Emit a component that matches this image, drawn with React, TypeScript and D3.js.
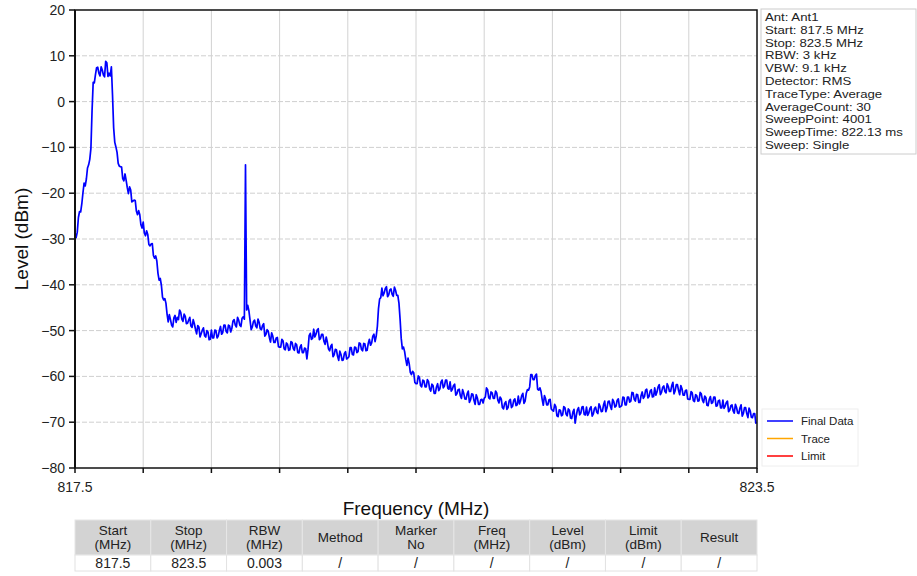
import React from "react";
import * as d3 from "d3";

// ---- Data ----
const sweepStartMHz = 817.5;
const sweepStopMHz = 823.5;
const sweepStepMHz = 0.01;

// Level (dBm), one value every 0.01 MHz from 817.5 MHz
const levelsDbm = [
  -29.1, -29.7, -28.5, -25.3, -24.0, -24.1, -22.3, -19.9, -17.8, -18.4, -16.9, -14.5, -13.8, -12.6, -10.2, -2.0, 4.2, 4.1, 5.9, 7.4,
  7.5, 6.2, 5.6, 7.6, 6.9, 5.8, 5.4, 8.8, 8.5, 5.5, 6.2, 5.6, 7.6, 1.5, -5.7, -8.9, -9.9, -11.1, -13.5, -14.1,
  -14.2, -14.3, -16.8, -17.3, -15.8, -17.2, -18.8, -20.1, -18.6, -19.3, -21.9, -21.7, -21.5, -21.6, -23.9, -24.7, -23.8, -24.7, -26.9, -27.6,
  -26.3, -28.7, -29.3, -28.2, -29.0, -31.2, -31.5, -31.1, -31.0, -33.6, -34.2, -33.7, -34.8, -37.5, -39.0, -38.6, -40.1, -42.7, -43.3, -43.0,
  -44.0, -46.4, -48.1, -46.5, -47.6, -48.8, -49.2, -47.2, -46.7, -48.2, -47.1, -47.6, -45.5, -46.0, -47.5, -48.0, -46.4, -46.9, -48.5, -48.4,
  -47.7, -47.1, -49.0, -49.3, -47.6, -48.5, -49.7, -50.7, -48.9, -49.2, -51.4, -50.7, -49.9, -49.4, -51.1, -51.4, -50.0, -50.3, -52.0, -51.9,
  -49.9, -51.6, -51.6, -49.9, -50.0, -51.6, -51.2, -50.0, -49.1, -50.8, -50.4, -48.8, -48.8, -50.2, -50.5, -48.8, -49.0, -50.3, -49.5, -47.9,
  -47.6, -48.8, -49.2, -47.1, -47.7, -48.8, -49.1, -47.3, -47.0, -47.5, -13.8, -45.5, -44.5, -45.7, -47.7, -49.8, -49.2, -48.0, -47.7, -49.0,
  -49.4, -47.5, -48.2, -49.6, -49.8, -48.9, -48.5, -51.2, -50.8, -49.8, -50.1, -51.5, -52.5, -50.5, -51.2, -52.6, -52.6, -51.6, -51.5, -53.5,
  -53.6, -53.6, -51.9, -52.2, -54.0, -54.2, -52.7, -53.0, -54.3, -54.2, -52.4, -52.6, -53.9, -54.3, -52.8, -53.1, -54.8, -54.9, -53.6, -53.1,
  -54.8, -54.8, -53.8, -54.0, -56.2, -54.1, -51.1, -50.6, -51.9, -51.7, -49.7, -51.4, -50.8, -49.9, -49.6, -52.0, -51.7, -50.8, -50.8, -52.3,
  -53.0, -51.4, -52.5, -54.0, -54.4, -53.4, -53.0, -55.7, -55.3, -54.1, -54.2, -55.6, -56.5, -54.5, -55.2, -56.5, -56.4, -55.0, -54.6, -56.2,
  -56.0, -55.7, -53.7, -53.7, -55.2, -55.3, -53.6, -53.7, -54.8, -54.6, -52.7, -52.8, -54.1, -54.4, -52.8, -52.9, -54.4, -54.3, -52.8, -51.9,
  -53.2, -52.7, -51.2, -50.8, -52.4, -51.2, -49.1, -45.2, -43.1, -42.8, -40.7, -42.4, -41.8, -40.8, -40.4, -42.6, -42.2, -41.1, -40.9, -42.1,
  -42.5, -40.5, -41.2, -42.3, -42.3, -44.0, -47.5, -51.7, -54.0, -53.6, -54.6, -56.3, -57.6, -56.0, -57.2, -59.1, -59.6, -58.9, -59.2, -61.3,
  -61.6, -61.6, -59.9, -60.2, -62.0, -62.3, -60.8, -61.0, -62.3, -62.3, -60.7, -61.1, -62.7, -63.2, -61.7, -62.0, -63.7, -63.7, -62.3, -61.6,
  -63.1, -62.7, -61.2, -60.8, -62.5, -62.1, -60.8, -60.8, -62.6, -62.8, -61.2, -63.2, -62.8, -62.0, -61.7, -64.1, -63.8, -62.9, -62.8, -64.2,
  -64.8, -62.9, -63.7, -64.9, -65.0, -63.8, -63.2, -65.7, -65.1, -63.8, -63.9, -65.2, -66.1, -64.0, -64.7, -66.1, -66.1, -65.1, -65.0, -65.8,
  -64.8, -64.5, -62.5, -62.9, -64.7, -64.9, -63.4, -63.6, -64.8, -64.8, -63.2, -63.6, -65.2, -65.8, -64.5, -64.9, -66.8, -67.1, -65.9, -65.5,
  -67.2, -66.8, -65.3, -65.0, -66.8, -66.5, -65.2, -64.9, -66.4, -66.2, -64.3, -66.0, -65.3, -64.2, -63.7, -65.9, -65.4, -63.7, -62.9, -63.0,
  -62.3, -59.6, -59.6, -60.7, -60.7, -59.8, -59.5, -62.8, -63.0, -62.5, -63.3, -65.0, -66.3, -64.2, -64.9, -66.2, -66.2, -65.1, -65.0, -67.1,
  -67.4, -67.6, -66.1, -66.6, -68.6, -68.8, -67.3, -67.4, -68.6, -68.4, -66.6, -66.8, -68.2, -68.6, -67.1, -67.4, -69.1, -69.2, -67.8, -67.2,
  -70.2, -68.6, -67.3, -66.8, -68.4, -68.0, -66.7, -66.6, -68.3, -68.4, -66.7, -68.5, -68.0, -67.0, -66.6, -68.7, -68.2, -67.0, -66.7, -67.8,
  -68.1, -66.0, -66.6, -67.7, -67.6, -66.2, -65.4, -67.7, -66.9, -65.5, -65.4, -66.5, -67.2, -65.0, -65.5, -66.7, -66.5, -65.2, -64.9, -66.7,
  -66.6, -66.4, -64.5, -64.6, -66.2, -66.2, -64.5, -64.5, -65.6, -65.4, -63.5, -63.6, -65.0, -65.4, -63.9, -64.0, -65.7, -65.7, -64.2, -63.4,
  -64.8, -64.4, -63.0, -62.8, -64.7, -64.4, -63.2, -62.9, -64.5, -64.4, -62.5, -64.1, -63.4, -62.3, -61.8, -64.0, -63.5, -62.4, -62.1, -63.3,
  -63.6, -61.6, -62.2, -63.3, -63.3, -62.0, -61.3, -63.8, -63.1, -61.8, -61.8, -63.1, -64.0, -62.0, -62.7, -64.1, -64.1, -63.1, -63.0, -64.9,
  -65.0, -65.0, -63.3, -63.6, -65.3, -65.5, -64.0, -64.2, -65.4, -65.3, -63.5, -63.8, -65.2, -65.7, -64.3, -64.6, -66.3, -66.4, -65.0, -64.4,
  -65.9, -65.7, -64.5, -64.5, -66.5, -66.4, -65.3, -65.2, -66.9, -66.9, -65.2, -67.0, -66.5, -65.7, -65.4, -67.7, -67.4, -66.4, -66.2, -67.5,
  -68.0, -66.1, -66.8, -68.0, -68.1, -66.9, -66.2, -68.7, -68.1, -66.8, -66.8, -68.1, -69.0, -66.9, -67.5, -68.9, -69.0, -68.1, -68.1, -70.2,
  -70.0,
];

const yTickValues = [20, 10, 0, -10, -20, -30, -40, -50, -60, -70, -80];
const xTickValues = [817.5, 818.1, 818.7, 819.3, 819.9, 820.5, 821.1, 821.7, 822.3, 822.9, 823.5];
const xTickLabels = ["817.5", "823.5"];

const infoLines = [
  "Ant: Ant1",
  "Start: 817.5 MHz",
  "Stop: 823.5 MHz",
  "RBW: 3 kHz",
  "VBW: 9.1 kHz",
  "Detector: RMS",
  "TraceType: Average",
  "AverageCount: 30",
  "SweepPoint: 4001",
  "SweepTime: 822.13 ms",
  "Sweep: Single",
];

const legendNames = ["Final Data", "Trace", "Limit"];
const legendColors = ["#0000ff", "#ffa500", "#ff0000"];

const tableHeaders = [
  ["Start", "(MHz)"],
  ["Stop", "(MHz)"],
  ["RBW", "(MHz)"],
  ["Method"],
  ["Marker", "No"],
  ["Freq", "(MHz)"],
  ["Level", "(dBm)"],
  ["Limit", "(dBm)"],
  ["Result"],
];
const tableRow = ["817.5", "823.5", "0.003", "/", "/", "/", "/", "/", "/"];

// ---- Layout ----
const W = 917;
const H = 576;
const plot = { left: 75, right: 757, top: 10, bottom: 468 };
const FONT = "Arial, 'Liberation Sans', Helvetica, sans-serif";

export default function App() {
  const x = d3.scaleLinear().domain([sweepStartMHz, sweepStopMHz]).range([plot.left, plot.right]);
  const y = d3.scaleLinear().domain([-80, 20]).range([plot.bottom, plot.top]);

  const pts: [number, number][] = levelsDbm.map((v, i) => [sweepStartMHz + i * sweepStepMHz, v]);
  const line = d3
    .line<[number, number]>()
    .x((d) => x(d[0]))
    .y((d) => y(d[1]));

  const colW = (plot.right - plot.left) / tableHeaders.length;
  const tblTop = 520;
  const hdrH = 35;
  const rowH = 16;

  return (
    <svg
      width={W}
      height={H}
      style={{ position: "absolute", left: 0, top: 0, background: "#fff" }}
      fontFamily={FONT}
    >
      <rect x={0} y={0} width={W} height={H} fill="#fff" />
      {/* grid */}
      {yTickValues
        .filter((v) => v !== 20 && v !== -80)
        .map((v) => (
          <line key={"gy" + v} x1={plot.left} x2={plot.right} y1={y(v)} y2={y(v)} stroke="#cfcfcf" strokeWidth={1} strokeDasharray="5,2" />
        ))}
      {xTickValues.slice(1, -1).map((v) => (
        <line key={"gx" + v} x1={x(v)} x2={x(v)} y1={plot.top} y2={plot.bottom} stroke="#d2d2d2" strokeWidth={1} />
      ))}

      {/* trace */}
      <clipPath id="pc">
        <rect x={plot.left} y={plot.top} width={plot.right - plot.left} height={plot.bottom - plot.top} />
      </clipPath>
      <path d={line(pts) || ""} fill="none" stroke="#0000ff" strokeWidth={1.7} strokeLinejoin="round" clipPath="url(#pc)" />

      {/* frame */}
      <rect x={plot.left} y={plot.top} width={plot.right - plot.left} height={plot.bottom - plot.top} fill="none" stroke="#111" strokeWidth={1.5} />
      <line x1={plot.left} x2={plot.left} y1={plot.top} y2={plot.bottom} stroke="#111" strokeWidth={2} />

      {/* y ticks */}
      {yTickValues.map((v) => (
        <g key={"yt" + v}>
          <line x1={plot.left - 6} x2={plot.left} y1={y(v)} y2={y(v)} stroke="#111" strokeWidth={1.5} />
          <text x={plot.left - 10} y={y(v)} dy="0.35em" textAnchor="end" fontSize={14} fill="#222">
            {v < 0 ? "\u2212" + Math.abs(v) : String(v)}
          </text>
        </g>
      ))}
      {/* x ticks */}
      {xTickValues.map((v) => (
        <line key={"xt" + v} x1={x(v)} x2={x(v)} y1={plot.bottom} y2={plot.bottom + 5} stroke="#111" strokeWidth={1.5} />
      ))}
      {xTickLabels.map((t) => (
        <text key={"xl" + t} x={x(+t)} y={492} textAnchor="middle" fontSize={14} fill="#222">
          {t}
        </text>
      ))}

      {/* axis titles */}
      <text x={(plot.left + plot.right) / 2} y={515} textAnchor="middle" fontSize={19} fill="#111">
        Frequency (MHz)
      </text>
      <text transform={`translate(28,${(plot.top + plot.bottom) / 2}) rotate(-90)`} textAnchor="middle" fontSize={19} fill="#111">
        Level (dBm)
      </text>

      {/* info box */}
      <rect x={761} y={9} width={155} height={145} fill="#fff" stroke="#cccccc" strokeWidth={1} />
      <g transform="translate(765,0) scale(1.2,1)">
        {infoLines.map((t, i) => (
          <text key={"inf" + i} x={0} y={21 + i * 12.8} fontSize={11} fill="#222">
            {t}
          </text>
        ))}
      </g>

      {/* legend */}
      <rect x={762} y={409} width={96} height={57} fill="#fff" stroke="#eeeeee" strokeWidth={1} />
      {legendNames.map((n, i) => (
        <g key={"lg" + n}>
          <line x1={767} x2={793} y1={421 + i * 17.5} y2={421 + i * 17.5} stroke={legendColors[i]} strokeWidth={1.5} />
          <text x={801} y={421 + i * 17.5} dy="0.35em" fontSize={11.5} fill="#222">
            {n}
          </text>
        </g>
      ))}

      {/* table */}
      {tableHeaders.map((hdr, i) => {
        const cx = plot.left + i * colW;
        return (
          <g key={"th" + i}>
            <rect x={cx} y={tblTop} width={colW} height={hdrH} fill="#d3d3d3" stroke="#e6e6e6" strokeWidth={1} />
            {hdr.map((t, j) => (
              <text
                key={j}
                x={cx + colW / 2}
                y={tblTop + hdrH / 2 + (hdr.length === 1 ? 0 : (j - 0.5) * 14)}
                dy="0.35em"
                textAnchor="middle"
                fontSize={13.5}
                fill="#222"
              >
                {t}
              </text>
            ))}
            <rect x={cx} y={tblTop + hdrH} width={colW} height={rowH} fill="#fff" stroke="#e2e2e2" strokeWidth={1} />
            <text x={cx + colW / 2} y={tblTop + hdrH + rowH / 2} dy="0.35em" textAnchor="middle" fontSize={14} fill="#222">
              {tableRow[i]}
            </text>
          </g>
        );
      })}
    </svg>
  );
}
